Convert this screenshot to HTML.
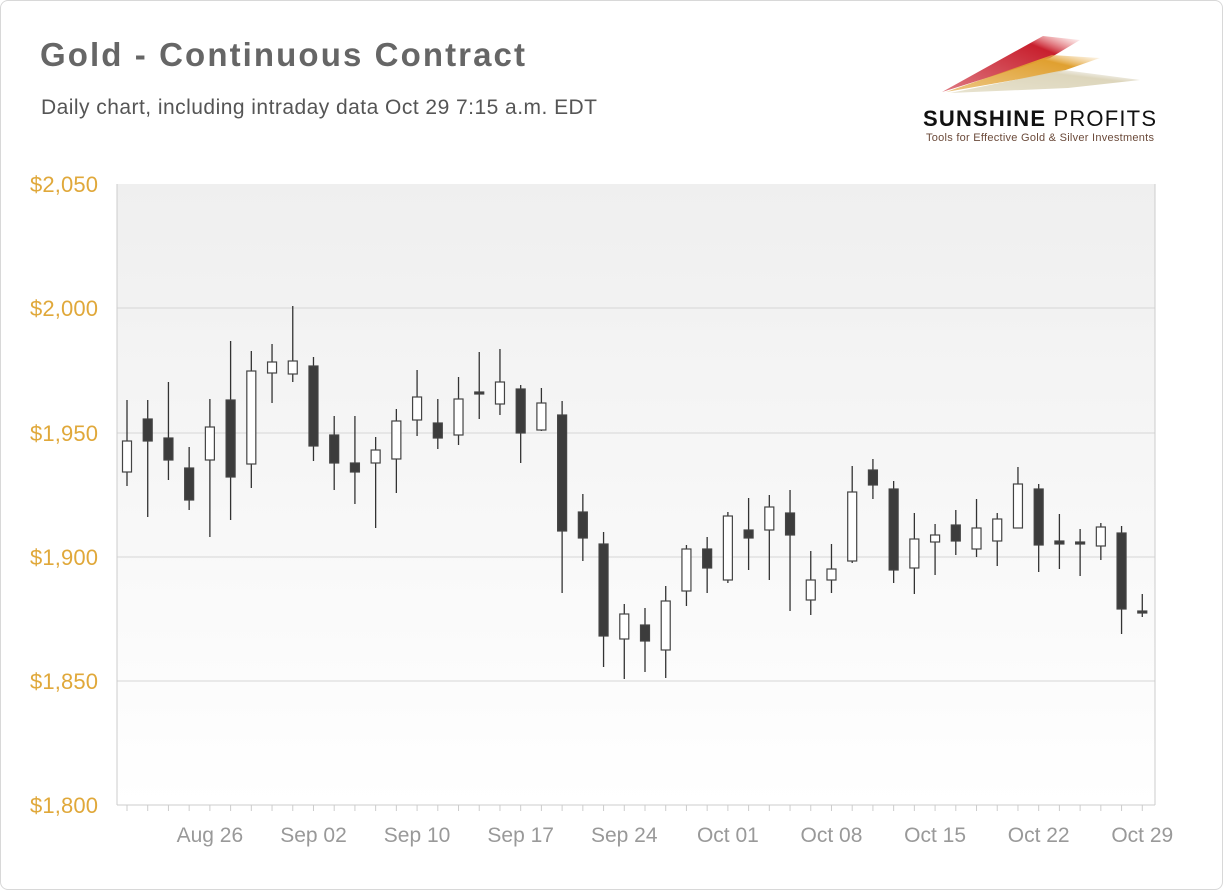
<!DOCTYPE html>
<html><head><meta charset="utf-8"><style>
body{margin:0;background:#fff;}
.card{position:absolute;left:0;top:0;width:1221px;height:888px;border:1px solid #d8d8d8;border-radius:8px;background:#fff;}
svg{position:absolute;left:0;top:0;}
</style></head><body>
<div class="card"></div>
<svg id="s" width="1223" height="890" xmlns="http://www.w3.org/2000/svg" font-family="Liberation Sans, sans-serif">
<defs>
<linearGradient id="bg" x1="0" y1="0" x2="0" y2="1"><stop offset="0" stop-color="#efefef"/><stop offset="1" stop-color="#ffffff"/></linearGradient>
<linearGradient id="r1" x1="0" y1="1" x2="1" y2="0"><stop offset="0" stop-color="#c8202e" stop-opacity="0.6"/><stop offset="0.75" stop-color="#c8202e"/><stop offset="1" stop-color="#e88" stop-opacity="0"/></linearGradient>
<linearGradient id="r2" x1="0" y1="1" x2="1" y2="0"><stop offset="0" stop-color="#e0a030" stop-opacity="0.6"/><stop offset="0.75" stop-color="#e0a030"/><stop offset="1" stop-color="#f0c070" stop-opacity="0"/></linearGradient>
<linearGradient id="r3" x1="0" y1="1" x2="1" y2="0"><stop offset="0" stop-color="#d8d0b0" stop-opacity="0.6"/><stop offset="0.7" stop-color="#ddd6bc"/><stop offset="1" stop-color="#eee" stop-opacity="0"/></linearGradient>
</defs>
<text x="40" y="66" font-size="33" font-weight="bold" fill="#666" textLength="485">Gold - Continuous Contract</text>
<text x="41" y="114" font-size="21" fill="#555" textLength="556">Daily chart, including intraday data Oct 29 7:15 a.m. EDT</text>
<polygon points="942,92 1043,36 1080,40 1050,58" fill="url(#r1)"/>
<polygon points="946,92 1052,55 1100,58 1060,72" fill="url(#r2)"/>
<polygon points="950,93 1064,70 1140,80 1068,88" fill="url(#r3)"/>
<text x="923" y="126" font-size="22" font-weight="bold" fill="#111" textLength="233">SUNSHINE <tspan font-weight="normal">PROFITS</tspan></text>
<text x="926" y="141" font-size="11" fill="#6b4a3a" textLength="228">Tools for Effective Gold &amp; Silver Investments</text>
<rect x="117" y="184" width="1038" height="621" fill="url(#bg)"/>
<g id="g"></g>
</svg>
<script>
var g=document.getElementById('g'),h='';
var L=117,R=1155;
[[2050,184],[2000,308],[1950,433],[1900,557],[1850,681],[1800,805]].forEach(function(a){
 if(a[0]!=1800&&a[0]!=2050)h+='<line x1="'+L+'" x2="'+R+'" y1="'+a[1]+'" y2="'+a[1]+'" stroke="#d6d6d6"/>';
 h+='<text x="98" y="'+(a[1]+8)+'" font-size="22" fill="#e0a83a" text-anchor="end" textLength="68">$'+(a[0]+'').replace(/(\d)(\d{3})/,'$1,$2')+'</text>';
});
h+='<line x1="'+L+'" x2="'+L+'" y1="184" y2="805" stroke="#ccc"/>';
h+='<line x1="'+R+'" x2="'+R+'" y1="184" y2="805" stroke="#ccc"/>';
h+='<line x1="'+L+'" x2="'+R+'" y1="805" y2="805" stroke="#ccc"/>';
var c=[[400,441,472,486,0],[400,419,441,517,1],[382,438,460,480,1],[447,468,500,510,1],[399,427,460,537,0],[341,400,477,520,1],[351,371,464,488,0],[344,362,373,403,0],[306,361,374,382,0],[357,366,446,461,1],[416,435,463,490,1],[416,463,472,504,1],[437,450,463,528,0],[409,421,459,493,0],[370,397,420,436,0],[399,423,438,449,1],[377,399,435,445,0],[352,392,394,419,1],[349,382,404,415,0],[385,389,433,463,1],[388,403,430,431,0],[401,415,531,593,1],[494,512,538,561,1],[532,544,636,667,1],[604,614,639,679,0],[608,625,641,672,1],[586,601,650,678,0],[545,549,591,606,0],[537,549,568,593,1],[512,516,580,583,0],[498,530,538,570,1],[495,507,530,580,0],[490,513,535,611,1],[551,580,600,615,0],[544,569,580,593,0],[466,492,561,563,0],[459,470,485,499,1],[481,489,570,583,1],[513,539,568,594,0],[524,535,542,575,0],[510,525,541,555,1],[499,528,549,557,0],[513,519,541,566,0],[467,484,528,528,0],[484,489,545,572,1],[514,541,544,569,1],[529,542,544,576,1],[523,527,546,560,0],[526,533,609,634,1],[594,611,613,617,1]];
c.forEach(function(k,i){
 var x=127+i*20.72;
 h+='<line x1="'+x+'" x2="'+x+'" y1="'+k[0]+'" y2="'+k[3]+'" stroke="#333" stroke-width="1.3"/>';
 h+='<rect x="'+(x-4.5)+'" y="'+k[1]+'" width="9" height="'+Math.max(1,k[2]-k[1])+'" fill="'+(k[4]?'#3c3c3c':'#fff')+'" stroke="#444" stroke-width="1.2"/>';
 h+='<line x1="'+x+'" x2="'+x+'" y1="805" y2="811" stroke="#ccc"/>';
});
var lb=['Aug 26','Sep 02','Sep 10','Sep 17','Sep 24','Oct 01','Oct 08','Oct 15','Oct 22','Oct 29'];
lb.forEach(function(t,i){var x=127+(4+i*5)*20.72;h+='<text x="'+x+'" y="842" font-size="21" fill="#999" text-anchor="middle">'+t+'</text>';});
g.innerHTML=h;
</script>
</body></html>
